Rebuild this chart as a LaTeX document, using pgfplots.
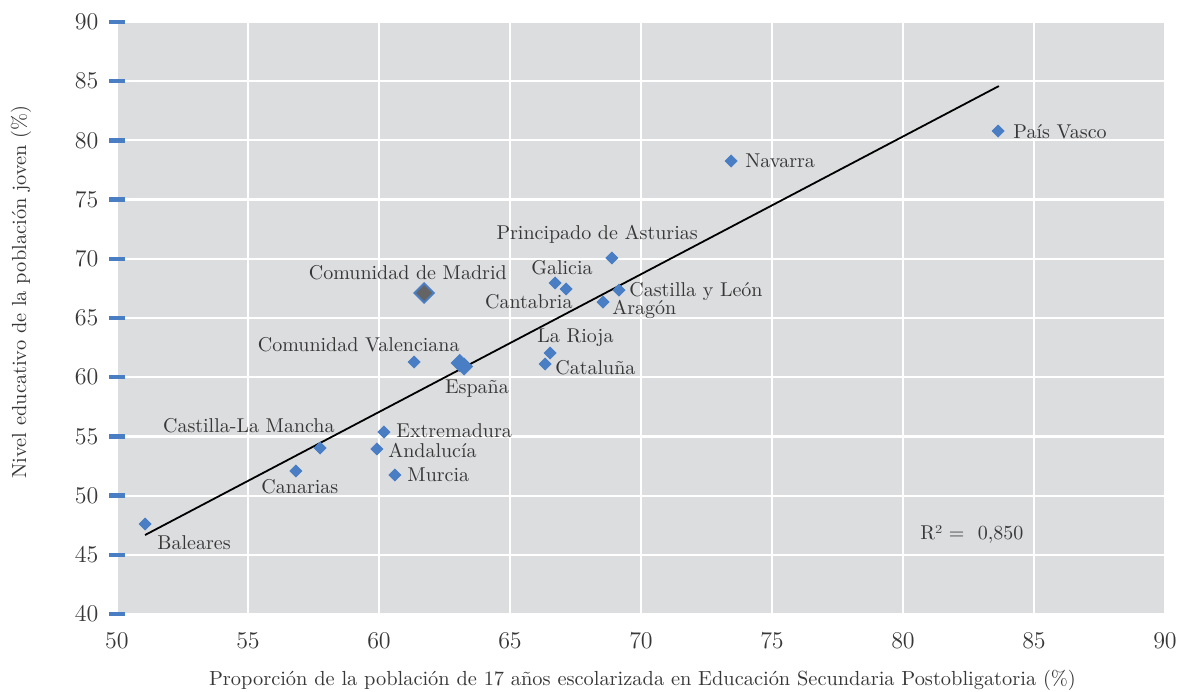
\documentclass[border=0pt]{standalone}
\usepackage{fontspec}
\usepackage{pgfplots}
\pgfplotsset{compat=1.18}
\definecolor{bg}{RGB}{220,221,223}
\definecolor{mblue}{RGB}{74,126,196}
\definecolor{txt}{RGB}{55,55,55}
\definecolor{mgray}{RGB}{100,100,100}
\begin{document}
\begin{tikzpicture}
\begin{axis}[
  scale only axis, width=524pt, height=296pt,
  xmin=50, xmax=90, ymin=40, ymax=90,
  xtick={50,55,...,90}, ytick={40,45,...,90},
  grid=major, major grid style={white, line width=1.1pt},
  axis background/.style={fill=bg},
  axis line style={draw=none},
  xtick style={draw=none},
  ytick style={mblue, line width=2.2pt},
  tick align=center, major tick length=7.5pt,
  ytick pos=left, xtick pos=bottom,
  ticklabel style={font=\fontsize{11.5}{14}\selectfont, text=txt},
  yticklabel style={xshift=-2pt},
  xticklabel style={yshift=-2pt},
  every axis x label/.style={at={(axis description cs:0.5014,-0.1115)}, anchor=center},
  every axis y label/.style={at={(axis description cs:-0.0916,0.544)}, anchor=center, rotate=90},
  label style={font=\fontsize{10.2}{12}\selectfont, text=txt},
  xlabel={Proporción de la población de 17 años escolarizada en Educación Secundaria Postobligatoria (\%)},
  ylabel={Nivel educativo de la población joven (\%)},
  clip=false,
]
% trend line
\addplot[black, line width=0.9pt] coordinates {(51.07,46.67) (83.66,84.59)};
% regions
\addplot[only marks, mark=square*, mark size=2.1pt, mark options={rotate=45, fill=mblue, draw=mblue}, color=mblue] coordinates {
(51.07,47.60) (56.83,52.08) (57.75,54.02) (59.92,53.94) (60.19,55.37)
(60.61,51.74) (61.34,61.28) (66.34,61.11) (66.53,62.04) (67.14,67.45)
(66.72,67.96) (68.55,66.35) (69.16,67.36) (68.89,70.07) (73.44,78.26)
(83.63,80.79)};
% Espana
\addplot[only marks, mark=square*, mark size=3.0pt, mark options={rotate=45, fill=mblue, draw=mblue}] coordinates {(63.08,61.20) (63.25,60.90)};
% Madrid
\addplot[only marks, mark=square*, mark size=3.4pt, mark options={rotate=45, fill=mgray, draw=mblue, line width=1pt}] coordinates {(61.72,67.11)};
\coordinate (bl) at (rel axis cs:0,0);
\coordinate (tr) at (rel axis cs:1,1);
\tikzset{lbl/.style={font=\fontsize{10}{12}\selectfont, text=txt, inner sep=0pt}}
\node[lbl, anchor=west] at (axis cs:51.53,46.0) {Baleares};
\node[lbl, anchor=center] at (axis cs:56.98,50.73) {Canarias};
\node[lbl, anchor=east] at (axis cs:58.32,55.88) {Castilla-La Mancha};
\node[lbl, anchor=west] at (axis cs:60.34,53.85) {Andalucía};
\node[lbl, anchor=west] at (axis cs:60.65,55.46) {Extremadura};
\node[lbl, anchor=west] at (axis cs:61.07,51.74) {Murcia};
\node[lbl, anchor=east] at (axis cs:63.09,62.72) {Comunidad Valenciana};
\node[lbl, anchor=east] at (axis cs:64.89,68.80) {Comunidad de Madrid};
\node[lbl, anchor=center] at (axis cs:63.74,59.00) {España};
\node[lbl, anchor=west] at (axis cs:66.72,60.78) {Cataluña};
\node[lbl, anchor=west] at (axis cs:66.03,63.31) {La Rioja};
\node[lbl, anchor=east] at (axis cs:67.40,66.35) {Cantabria};
\node[lbl, anchor=west] at (axis cs:65.80,69.22) {Galicia};
\node[lbl, anchor=west] at (axis cs:68.89,65.76) {Aragón};
\node[lbl, anchor=west] at (axis cs:69.54,67.20) {Castilla y León};
\node[lbl, anchor=east] at (axis cs:72.18,72.09) {Principado de Asturias};
\node[lbl, anchor=west] at (axis cs:73.97,78.26) {Navarra};
\node[lbl, anchor=west] at (axis cs:84.20,80.71) {País Vasco};
\node[lbl, anchor=west] at (axis cs:80.65,46.76) {R² = \ 0,850};
\end{axis}
\pgfresetboundingbox
\path[use as bounding box] ([shift={(-58.5pt,-38.5pt)}]bl) rectangle ([shift={(6.5pt,11pt)}]tr);
\end{tikzpicture}
\end{document}
